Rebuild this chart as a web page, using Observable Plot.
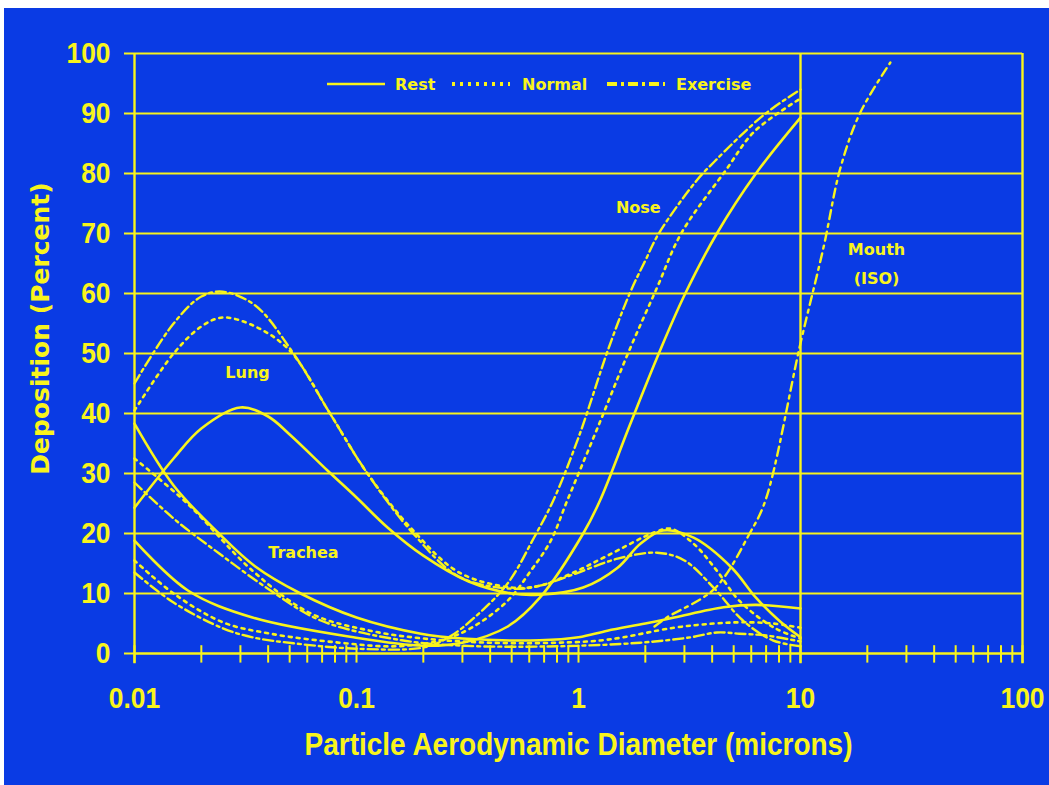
<!DOCTYPE html>
<html><head><meta charset="utf-8">
<script src="https://cdn.jsdelivr.net/npm/d3@7"></script>
<script src="https://cdn.jsdelivr.net/npm/@observablehq/plot@0.6"></script>
<style>
html,body{margin:0;padding:0;background:#fff;}
#chart{position:absolute;left:4px;top:8px;width:1045px;height:777px;background:#0a3be4;}
</style></head><body><div id="chart"></div>
<script>
// ---- data: [diameter (microns), deposition (%)] ----
const lungRest = [[0.01,24.3],[0.015,32.5],[0.02,37.5],[0.03,41],[0.04,39.5],[0.05,36.5],[0.074,30.5],[0.1,26],[0.138,21],[0.2,16.3],[0.32,12],[0.5,10],[0.67,9.8],[1.05,11],[1.5,14.3],[1.9,18.3],[2.4,20.5],[3.3,19.3],[4.9,14.3],[6.3,9.3],[8,5.5],[10,2.7]];
const lungNormal = [[0.01,40.5],[0.015,50],[0.02,54.5],[0.025,56],[0.035,54.5],[0.05,50.5],[0.076,40],[0.112,30],[0.18,20.5],[0.29,13.5],[0.5,11],[0.67,11.3],[0.95,13.5],[1.35,16.3],[2.2,20.2],[2.6,20.8],[3.3,18.3],[4.2,13.8],[5.3,8.8],[7.6,4.3],[10,2.5]];
const lungExercise = [[0.01,45],[0.015,55],[0.02,59.5],[0.025,60.3],[0.035,58],[0.052,50],[0.076,40],[0.112,30],[0.18,20],[0.29,12.8],[0.5,10.8],[0.67,11.3],[0.95,13.2],[1.5,15.8],[2.26,16.8],[3.0,15.5],[4.1,10.8],[5.5,5.5],[7.5,2.2],[10,1.2]];
const tracheaRest = [[0.01,38.3],[0.015,28],[0.024,20],[0.035,14.5],[0.056,10],[0.1,6],[0.195,3.3],[0.3,2.5],[0.67,2.2],[1.0,2.7],[1.35,3.8],[2,5],[2.7,6],[4.5,7.7],[6.3,8.1],[10,7.5]];
const tracheaNormal = [[0.01,32.5],[0.0173,25],[0.034,13.8],[0.062,6.7],[0.115,3.8],[0.2,2.5],[0.4,1.8],[0.8,1.8],[1.35,2.3],[2.7,4.3],[4.1,5],[5.5,5.2],[7.5,5],[10,4.3]];
const tracheaExercise = [[0.01,28.5],[0.015,22.5],[0.024,16.7],[0.041,10.5],[0.069,5.5],[0.16,2.2],[0.3,1.3],[0.8,1.2],[1.9,1.8],[3.2,2.7],[4.2,3.5],[5.3,3.3],[7,3],[10,2]];
const noseRest = [[0.01,18.8],[0.0174,10.5],[0.034,6],[0.097,2.7],[0.2,1.3],[0.3,1.8],[0.48,4.5],[0.67,9.3],[1.05,20],[1.25,25.5],[1.7,38],[2.3,50],[3.0,59.7],[4.2,70],[6.3,80],[10,89.3]];
const noseNormal = [[0.01,15.5],[0.015,10],[0.025,5.2],[0.041,3.3],[0.084,1.8],[0.15,1.2],[0.24,2.2],[0.33,4.3],[0.48,8.8],[0.61,13.8],[0.75,18.8],[0.89,25.5],[1.2,37],[1.67,50],[2.26,61],[2.9,70],[4.6,80.5],[6.2,87],[10,92.5]];
const noseExercise = [[0.01,13.5],[0.015,8.5],[0.025,4.2],[0.034,2.7],[0.052,1.7],[0.1,0.8],[0.2,1.0],[0.26,2.7],[0.34,6],[0.48,11.7],[0.63,19.3],[0.77,25.5],[1.0,36],[1.37,51],[1.7,60],[2.0,65.5],[2.3,70],[3.4,78.8],[4.1,82],[6.8,89.7],[10,94]];
const mouthISO = [[2.2,4.5],[2.5,6],[4.1,10.8],[5.9,20],[6.95,25.5],[10,51.7],[12.7,67.7],[15.1,80.8],[18.5,90],[25.4,98.5]];

const yTicks = [0,10,20,30,40,50,60,70,80,90,100];
const yGrid = [10,20,30,40,50,60,70,80,90,100];
const xTicks = [0.01,0.1,1,10,100];
const xTickLabels = ["0.01","0.1","1","10","100"];
const xFrameLines = [0.01,10,100];
const xMinorTicks = [0.01,0.1,1,10].flatMap(d => [1,2,3,4,5,6,7,8,9].map(k => k*d)).concat([100]);

const regionLabels = ["Lung","Trachea","Nose","Mouth","(ISO)"];
const regionLabelX = [0.0323,0.0577,1.86,22,22];
const regionLabelY = [46.7,16.7,74.3,67.2,62.5];

const legendNames = ["Rest","Normal","Exercise"];
const xTitle = "Particle Aerodynamic Diameter (microns)";
const yTitle = "Deposition (Percent)";

const YEL = "#f8f41c";
const NARROW = "'Liberation Sans Narrow', 'Liberation Sans', Arial, sans-serif";
const WIDE = "'DejaVu Sans', Verdana, sans-serif";
const series = [
  {key:"lungRest", style:"Rest", pts:lungRest},
  {key:"lungNormal", style:"Normal", pts:lungNormal},
  {key:"lungExercise", style:"Exercise", pts:lungExercise},
  {key:"tracheaRest", style:"Rest", pts:tracheaRest},
  {key:"tracheaNormal", style:"Normal", pts:tracheaNormal},
  {key:"tracheaExercise", style:"Exercise", pts:tracheaExercise},
  {key:"noseRest", style:"Rest", pts:noseRest},
  {key:"noseNormal", style:"Normal", pts:noseNormal},
  {key:"noseExercise", style:"Exercise", pts:noseExercise},
  {key:"mouthISO", style:"Mouth", pts:mouthISO}
];
const rows = series.flatMap(s => s.pts.map(([x,y]) => ({x, y, key:s.key, style:s.style})));
const dashes = {Rest:null, Normal:"3,5", Exercise:"10,4,3,4", Mouth:"9,5,3,5"};
const widths = {Rest:2.6, Normal:2.6, Exercise:2.4, Mouth:2.4};

const lineMarks = Object.keys(dashes).map(st =>
  Plot.line(rows.filter(r => r.style === st), {
    x:"x", y:"y", z:"key", stroke:YEL, strokeWidth:widths[st],
    strokeDasharray: dashes[st] || undefined, curve:"catmull-rom"
  }));

const labels = regionLabels.map((t,i) => ({t, x:regionLabelX[i], y:regionLabelY[i]}));

const plot = Plot.plot({
  width:1045, height:777,
  marginLeft:130, marginRight:27, marginTop:45, marginBottom:132,
  style:{background:"transparent", color:YEL, overflow:"visible"},
  x:{type:"log", domain:[0.01,100]},
  y:{domain:[0,100]},
  marks:[
    Plot.ruleY(yGrid, {x1:0.01, x2:100, stroke:YEL, strokeWidth:2.2}),
    Plot.ruleY([0], {x1:0.01, x2:100, stroke:YEL, strokeWidth:2.6}),
    Plot.ruleX(xFrameLines, {y1:-1.7, y2:100, stroke:YEL, strokeWidth:2.4}),
    Plot.ruleX(xMinorTicks, {y1:-1.6, y2:1.3, stroke:YEL, strokeWidth:2}),
    Plot.axisY({ticks:yTicks, tickSize:10, tickPadding:14, stroke:YEL, strokeWidth:2, fill:YEL,
      fontSize:30, fontWeight:"bold", fontFamily:NARROW, label:null}),
    Plot.axisX({ticks:xTicks, tickSize:0, tickPadding:33, fill:YEL,
      tickFormat:d => xTickLabels[xTicks.indexOf(d)],
      fontSize:30, fontWeight:"bold", fontFamily:NARROW, label:null}),
    ...lineMarks,
    Plot.text(labels, {x:"x", y:"y", text:"t", fill:YEL, fontSize:16, fontWeight:"bold", fontFamily:WIDE}),
    Plot.text([xTitle], {frameAnchor:"bottom", dy:101, fill:YEL,
      fontSize:32, fontWeight:"bold", fontFamily:NARROW}),
    Plot.text([yTitle], {frameAnchor:"left", textAnchor:"middle", dx:-94, dy:-25, rotate:-90, fill:YEL,
      fontSize:25, fontWeight:"bold", fontFamily:WIDE})
  ]
});
document.getElementById("chart").appendChild(plot);

// narrow the Arial-like texts (no narrow face available)
function squeezeNode(node, sx, sy) {
  const t = d3.select(node);
  let tr = t.attr("transform");
  if (!tr) { tr = `translate(${+t.attr("x")||0},${+t.attr("y")||0})`; t.attr("x", null).attr("y", null); }
  t.attr("transform", tr + ` scale(${sx},${sy})`);
}
d3.select(plot).selectAll('g[aria-label="y-axis tick label"] text').each(function(){ squeezeNode(this, 0.88, 1); });
d3.select(plot).selectAll('g[aria-label="x-axis tick label"] text').each(function(){ squeezeNode(this, 0.88, 1); });
d3.select(plot).selectAll('text').filter(function(){ return this.textContent === xTitle; })
  .each(function(){ squeezeNode(this, 0.875, 1); });

// legend (inside plot area, top)
const svg = d3.select(plot);
const lg = svg.append("g").attr("fill", YEL).attr("stroke", YEL);
const legendPos = [{x0:323, tx:391}, {x0:448, tx:518}, {x0:603, tx:672}];
const legendDash = ["Rest","Normal","Exercise"];
legendNames.forEach((name, i) => {
  const p = legendPos[i];
  lg.append("line").attr("x1", p.x0).attr("x2", p.x0 + 58).attr("y1", 76).attr("y2", 76)
    .attr("stroke-width", i === 0 ? 2.6 : 4).attr("stroke-dasharray", dashes[legendDash[i]]);
  lg.append("text").attr("x", p.tx).attr("y", 76).attr("dy", "0.36em").attr("stroke", "none")
    .attr("text-anchor", "start")
    .attr("font-family", WIDE).attr("font-weight", "bold").attr("font-size", 16)
    .text(name);
});
</script></body></html>
